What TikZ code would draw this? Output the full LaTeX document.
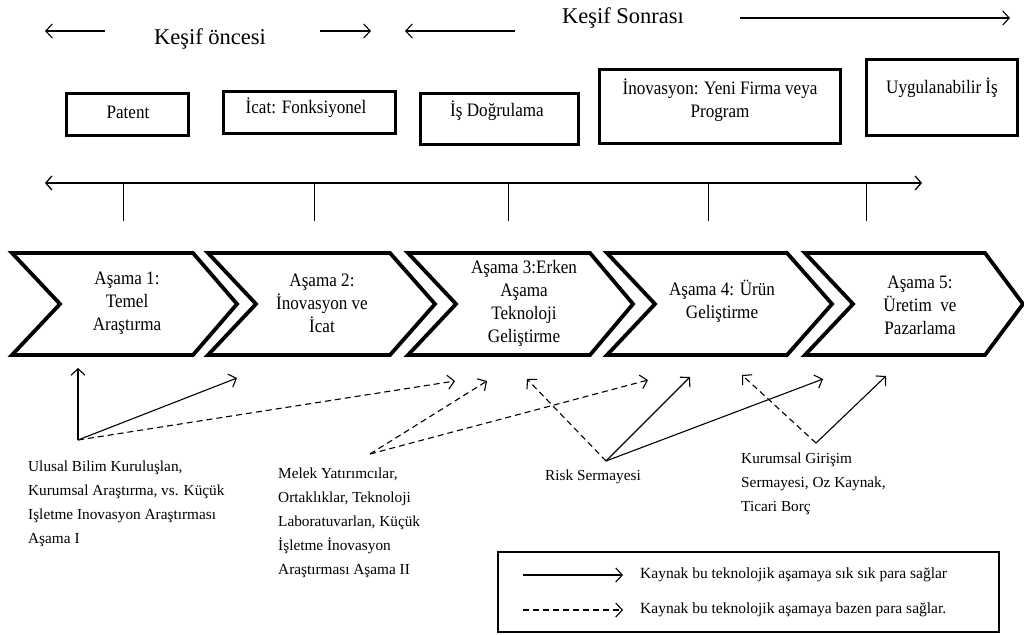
\documentclass[tikz,border=0pt]{standalone}
\usepackage{fontspec}
\setmainfont{Liberation Serif}
\newfontfamily\condfont[FakeStretch=0.9]{Liberation Serif}
\usetikzlibrary{arrows.meta}
\begin{document}
\begin{tikzpicture}[x=1pt,y=-1pt,
  arr/.style={line width=1.1pt,-{Straight Barb[length=6.5pt,width=14pt,line width=1.1pt]}},
  darr/.style={arr,dash pattern=on 6pt off 4pt},
  topbox/.style={draw,line width=3.2pt,inner sep=0pt},
  chev/.style={draw,line width=3.8pt,line join=miter},
  ttl/.style={font=\fontsize{22.5}{26}\selectfont,inner sep=0pt},
  lbl/.style={font=\condfont\fontsize{19}{23}\selectfont,align=center,inner sep=0pt},
  src/.style={font=\fontsize{15.3}{24}\selectfont,align=left,anchor=west,inner sep=0pt},
  leg/.style={font=\fontsize{15.5}{17}\selectfont,anchor=west,inner sep=0pt}
]
\useasboundingbox (0,0) rectangle (1024,634);

% ---- titles and arrows on top
\node[ttl] (k1) at (210,39) {Keşif öncesi};
\node[ttl] (k2) at (623,18) {Keşif Sonrası};
\coordinate (a1s) at (105,31); \coordinate (a1e) at (45,31);
\coordinate (a2s) at (320,31); \coordinate (a2e) at (371,31);
\coordinate (a3s) at (515,31); \coordinate (a3e) at (405,31);
\coordinate (a4s) at (740,18); \coordinate (a4e) at (1010,18);
\draw[arr] (a1s) -- (a1e);
\draw[arr] (a2s) -- (a2e);
\draw[arr] (a3s) -- (a3e);
\draw[arr] (a4s) -- (a4e);

% ---- top boxes
\node[topbox,minimum width=122pt,minimum height=42pt] (b1) at (127.5,114.5) {};
\node[topbox,minimum width=172pt,minimum height=42pt] (b2) at (309.5,112.5) {};
\node[topbox,minimum width=158pt,minimum height=51pt] (b3) at (499.5,119) {};
\node[topbox,minimum width=241pt,minimum height=74pt] (b4) at (720,106.5) {};
\node[topbox,minimum width=151pt,minimum height=76pt] (b5) at (942,97.5) {};
\node[lbl] (t1) at (128,112) {Patent};
\node[lbl] (t2) at (306,108) {İcat: Fonksiyonel};
\node[lbl] (t3) at (497,111) {İş Doğrulama};
\node[lbl] (t4) at (720,100) {İnovasyon: Yeni Firma veya\\Program};
\node[lbl] (t5) at (942,88) {Uygulanabilir İş};

% ---- timeline
\coordinate (tlL) at (45,183); \coordinate (tlR) at (922,183);
\draw[line width=1.6pt,{Straight Barb[length=6pt,width=14pt,line width=1.3pt]}-{Straight Barb[length=6pt,width=14pt,line width=1.3pt]}] (tlL) -- (tlR);
\foreach \x/\n in {123/1,314/2,508/3,708/4,866/5}{
  \coordinate (tk\n a) at (\x,183); \coordinate (tk\n b) at (\x,221);
  \draw[line width=1pt] (tk\n a) -- (tk\n b);
}

% ---- chevrons
\foreach \L/\R/\T in {12/193/237, 208/390/435, 408/590/633, 607/787/832, 805/985/1023}{
  \draw[chev] (\L,253) -- (\R,253) -- (\T,304) -- (\R,355) -- (\L,355) -- ({\L+48},304) -- cycle;
}
\node[lbl] (c1) at (127,303) {Aşama 1:\\Temel\\Araştırma};
\node[lbl] (c2) at (322,303) {Aşama 2:\\İnovasyon ve\\İcat};
\node[lbl] (c3) at (524,303.5) {Aşama 3:Erken\\Aşama\\Teknoloji\\Geliştirme};
\node[lbl] (c4) at (722,301.5) {Aşama 4: Ürün\\Geliştirme};
\node[lbl] (c5) at (920,305) {Aşama 5:\\Üretim\ \ ve\\Pazarlama};

% ---- sources
\node[src] (sA) at (28,504) {Ulusal Bilim Kuruluşlan,\\Kurumsal Araştırma, vs. Küçük\\Işletme Inovasyon Araştırması\\Aşama I};
\node[src] (sB) at (278,523) {Melek Yatırımcılar,\\Ortaklıklar, Teknoloji\\Laboratuvarlan, Küçük\\İşletme İnovasyon\\Araştırması Aşama II};
\node[src] (sC) at (545,477) {Risk Sermayesi};
\node[src] (sD) at (741,484) {Kurumsal Girişim\\Sermayesi, Oz Kaynak,\\Ticari Borç};

\coordinate (A0) at (78,440);
\coordinate (B0) at (370,454);
\coordinate (C0) at (606,461);
\coordinate (D0) at (816,443);
\coordinate (e1) at (78,368);
\coordinate (e2) at (237,378);
\coordinate (e3) at (455,381);
\coordinate (e4) at (487,381);
\coordinate (e5) at (648,380);
\coordinate (e6) at (527,379);
\coordinate (e7) at (690,377);
\coordinate (e8) at (823,379);
\coordinate (e9) at (742,375);
\coordinate (e10) at (886,376);

\draw[arr] (A0) -- (e1);
\draw[arr] (A0) -- (e2);
\draw[darr] (A0) -- (e3);
\draw[darr] (B0) -- (e4);
\draw[darr] (B0) -- (e5);
\draw[darr] (C0) -- (e6);
\draw[arr] (C0) -- (e7);
\draw[arr] (C0) -- (e8);
\draw[darr] (D0) -- (e9);
\draw[arr] (D0) -- (e10);

% ---- legend
\node[draw,line width=1.2pt,minimum width=501pt,minimum height=80pt,inner sep=0pt] (lg) at (748.5,592) {};
\coordinate (l1s) at (523,575); \coordinate (l1e) at (623,575);
\coordinate (l2s) at (523,610); \coordinate (l2e) at (623,610);
\draw[arr] (l1s) -- (l1e);
\draw[darr] (l2s) -- (l2e);
\node[leg] (lt1) at (640,575) {Kaynak bu teknolojik aşamaya sık sık para sağlar};
\node[leg] (lt2) at (640,610) {Kaynak bu teknolojik aşamaya bazen para sağlar.};
\end{tikzpicture}
\end{document}
